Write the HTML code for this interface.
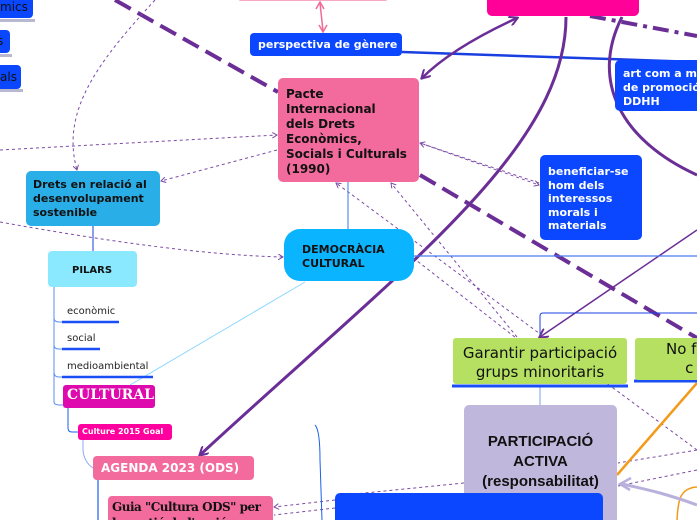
<!DOCTYPE html>
<html><head><meta charset="utf-8"><style>
html,body{margin:0;padding:0;background:#fff;width:697px;height:520px;overflow:hidden;position:relative;font-family:"DejaVu Sans","Liberation Sans",sans-serif}
.b{position:absolute;box-sizing:border-box}
.t{position:absolute;white-space:nowrap}
</style></head><body>
<svg width="697" height="520" style="position:absolute;left:0;top:0">
<defs>
<marker id="a" markerWidth="10" markerHeight="10" refX="8" refY="5" orient="auto" markerUnits="userSpaceOnUse"><path d="M0,0 L9,5 L0,10" fill="none" stroke="#6a2e96" stroke-width="2"/></marker>
<marker id="a2" markerWidth="10" markerHeight="10" refX="8" refY="5" orient="auto-start-reverse" markerUnits="userSpaceOnUse"><path d="M0,0 L9,5 L0,10" fill="none" stroke="#6a2e96" stroke-width="2"/></marker>
<marker id="s" markerWidth="6" markerHeight="6" refX="5" refY="3" orient="auto" markerUnits="userSpaceOnUse"><path d="M0,0 L5,3 L0,6" fill="none" stroke="#7b4aa6" stroke-width="1"/></marker>
</defs>
<rect x="0" y="19" width="35" height="3" fill="#b8b8d0"/>
<rect x="0" y="54" width="12" height="3" fill="#b8b8d0"/>
<rect x="0" y="89" width="23" height="3" fill="#b8b8d0"/>
<line x1="115" y1="0" x2="278" y2="92" stroke="#6a2e96" stroke-width="4" stroke-dasharray="18,8"/>
<line x1="420" y1="175" x2="697" y2="338" stroke="#6a2e96" stroke-width="4" stroke-dasharray="18,8"/>
<line x1="590" y1="16" x2="697" y2="36" stroke="#6a2e96" stroke-width="4" stroke-dasharray="16,6,4,6"/>
<path d="M402,52 L697,62" stroke="#1a3fe0" stroke-width="2.5" fill="none"/>
<line x1="320" y1="3" x2="323" y2="31" stroke="#f06a9a" stroke-width="1.5"/>
<path d="M316,9 L320,2 L324,9 M319,25 L323,32 L327,25" stroke="#f06a9a" stroke-width="1.5" fill="none"/>
<path d="M566,17 C566,150 400,270 200,455" stroke="#6a2e96" stroke-width="3" fill="none" marker-end="url(#a)"/>
<path d="M517,18 C480,35 445,55 422,78" stroke="#6a2e96" stroke-width="2.5" fill="none" marker-start="url(#a2)" marker-end="url(#a2)"/>
<path d="M622,17 C590,80 620,140 697,175" stroke="#6a2e96" stroke-width="3" fill="none"/>
<path d="M697,230 L540,337" stroke="#6a2e96" stroke-width="1.5" fill="none" marker-end="url(#a)"/>
<g stroke="#7b4aa6" stroke-width="1" stroke-dasharray="3,3" fill="none">
<path d="M155,0 C100,60 60,110 77,170" marker-end="url(#s)"/>
<path d="M0,150 L277,135" marker-end="url(#s)"/>
<path d="M277,150 L161,181" marker-end="url(#s)"/>
<path d="M0,222 C100,240 200,255 283,257" marker-end="url(#s)"/>
<path d="M539,183 L420,143" marker-end="url(#s)"/>
<path d="M420,143 L539,185" marker-end="url(#s)"/>
<path d="M517,337 L391,183" marker-end="url(#s)"/>
<path d="M697,450 L336,183" marker-end="url(#s)"/>
<path d="M380,232 L516,338"/>
<path d="M697,450 L618,463"/>
<path d="M697,470 L618,486"/>
<path d="M464,483 L345,495"/>
<path d="M335,500 L274,507" marker-end="url(#s)"/>
<path d="M335,508 L274,515"/>
</g>
<line x1="348" y1="182" x2="348" y2="229" stroke="#5b8ef5" stroke-width="1.2"/>
<line x1="414" y1="256" x2="697" y2="256" stroke="#4a7cf0" stroke-width="1.2"/>
<path d="M540,335 L540,316 Q540,313 543,313 L697,313" stroke="#1a3fe0" stroke-width="1" fill="none"/>
<line x1="93" y1="226" x2="93" y2="251" stroke="#3a60e0" stroke-width="1.2"/>
<path d="M54,287 L54,372 Q54,377 59,377 L62,377 M54,318 Q54,322 59,322 L62,322 M54,345 Q54,349 59,349 L62,349 M54,372 L54,402 Q54,405 60,405 L63,405" stroke="#5b8ef5" stroke-width="1" fill="none"/>
<line x1="130" y1="385" x2="305" y2="282" stroke="#8fd8ff" stroke-width="1"/>
<path d="M68,408 L68,428 Q68,432 72,432 L78,432" stroke="#1a5ff0" stroke-width="1" fill="none"/>
<path d="M83,440 L83,450 Q84,462 93,468" stroke="#8aa8f5" stroke-width="1" fill="none"/>
<path d="M98,480 L98,520" stroke="#1a5ff0" stroke-width="1.2"/>
<path d="M315,425 Q320,430 320,460 L322,520" stroke="#1a5ff0" stroke-width="1" fill="none"/>
<line x1="540" y1="386" x2="540" y2="405" stroke="#7aa0f5" stroke-width="1"/>
<line x1="697" y1="383" x2="617" y2="475" stroke="#f39a1a" stroke-width="2.5"/>
<path d="M697,487 C680,488 678,500 677,520" stroke="#f39a1a" stroke-width="1.5" fill="none"/>
<path d="M697,505 C670,495 650,490 622,484" stroke="#b9b1dc" stroke-width="3" fill="none"/>
<path d="M631,478 L620,484 L630,490" stroke="#b9b1dc" stroke-width="2.5" fill="none"/>
<line x1="62" y1="322" x2="119" y2="322" stroke="#1a4ff5" stroke-width="2.5"/>
<line x1="62" y1="349" x2="100" y2="349" stroke="#1a4ff5" stroke-width="2.5"/>
<line x1="62" y1="377" x2="153" y2="377" stroke="#1a4ff5" stroke-width="2.5"/>
<line x1="452" y1="386" x2="628" y2="386" stroke="#1a4ff5" stroke-width="3"/>
<line x1="634" y1="381" x2="697" y2="381" stroke="#1a4ff5" stroke-width="3"/>
</svg>

<div class="b" style="left:-6px;top:-6px;width:39px;height:24px;background:#0a47ff;border-radius:4px"></div>
<div class="t" style="left:0;top:0;font-size:12px;color:#111">mics</div>
<div class="b" style="left:-6px;top:30px;width:16px;height:23px;background:#0a47ff;border-radius:4px"></div>
<div class="t" style="left:-3px;top:34px;font-size:12px;color:#111">s</div>
<div class="b" style="left:-6px;top:65px;width:27px;height:24px;background:#0a47ff;border-radius:4px"></div>
<div class="t" style="left:0;top:70px;font-size:12px;color:#111">als</div>

<div class="b" style="left:238px;top:-8px;width:150px;height:9px;background:#f7a8c4;border-radius:3px"></div>
<div class="b" style="left:487px;top:-8px;width:152px;height:24px;background:#ff0099;border-radius:5px"></div>

<div class="b" style="left:250px;top:33px;width:152px;height:23px;background:#0a47ff;border-radius:4px"></div>
<div class="t" style="left:258px;top:38px;font-size:11px;font-weight:bold;color:#fff">perspectiva de gènere</div>

<div class="b" style="left:278px;top:78px;width:141px;height:104px;background:#f26b9c;border-radius:5px"></div>
<div class="t" style="left:286px;top:87px;font-size:12px;font-weight:bold;color:#111;line-height:15px">Pacte<br>Internacional<br>dels Drets<br>Econòmics,<br>Socials i Culturals<br>(1990)</div>

<div class="b" style="left:615px;top:60px;width:90px;height:51px;background:#0a47ff;border-radius:5px"></div>
<div class="t" style="left:623px;top:67px;font-size:11px;font-weight:bold;color:#fff;line-height:14px">art com a m<br>de promoció<br>DDHH</div>

<div class="b" style="left:540px;top:155px;width:102px;height:85px;background:#0a47ff;border-radius:5px"></div>
<div class="t" style="left:548px;top:165px;font-size:11px;font-weight:bold;color:#fff;line-height:13.5px">beneficiar-se<br>hom dels<br>interessos<br>morals i<br>materials</div>

<div class="b" style="left:26px;top:171px;width:134px;height:55px;background:#29aee8;border-radius:5px"></div>
<div class="t" style="left:33px;top:178px;font-size:11px;font-weight:bold;color:#111;line-height:14px">Drets en relació al<br>desenvolupament<br>sostenible</div>

<div class="b" style="left:284px;top:229px;width:130px;height:52px;background:#0ab4ff;border-radius:16px"></div>
<div class="t" style="left:302px;top:243px;font-size:11px;font-weight:bold;color:#111;line-height:14px">DEMOCRÀCIA<br>CULTURAL</div>

<div class="b" style="left:48px;top:251px;width:89px;height:36px;background:#8ae9ff;border-radius:4px"></div>
<div class="t" style="left:72px;top:265px;font-size:10px;font-weight:bold;color:#111">PILARS</div>

<div class="t" style="left:67px;top:306px;font-size:10px;color:#222">econòmic</div>
<div class="t" style="left:67px;top:333px;font-size:10px;color:#222">social</div>
<div class="t" style="left:67px;top:361px;font-size:10px;color:#222">medioambiental</div>

<div class="b" style="left:63px;top:385px;width:92px;height:23px;background:#de0aad;border-radius:3px"></div>
<div class="t" style="left:67px;top:387px;font-size:14px;font-weight:bold;color:#fff;font-family:'DejaVu Serif','Liberation Serif',serif">CULTURAL</div>

<div class="b" style="left:78px;top:424px;width:94px;height:16px;background:#ff009e;border-radius:3px"></div>
<div class="t" style="left:82px;top:427px;font-size:8px;font-weight:bold;color:#fff">Culture 2015 Goal</div>

<div class="b" style="left:93px;top:456px;width:161px;height:24px;background:#f26b9c;border-radius:4px"></div>
<div class="t" style="left:101px;top:461px;font-size:12px;font-weight:bold;color:#fff">AGENDA 2023 (ODS)</div>

<div class="b" style="left:108px;top:496px;width:165px;height:30px;background:#f26b9c;border-radius:4px"></div>
<div class="t" style="left:112px;top:499px;font-size:12px;font-weight:bold;color:#111;font-family:'DejaVu Serif','Liberation Serif',serif;line-height:16px;letter-spacing:-0.5px">Guia "Cultura ODS" per<br>la gestió de l'acció</div>

<div class="b" style="left:453px;top:338px;width:174px;height:46px;background:#b5e061;border-radius:3px"></div>
<div class="t" style="left:453px;top:344px;width:174px;text-align:center;font-size:15px;color:#111;line-height:19px">Garantir participació<br>grups minoritaris</div>

<div class="b" style="left:635px;top:338px;width:80px;height:42px;background:#b5e061;border-radius:3px"></div>
<div class="t" style="left:666px;top:340px;font-size:15px;color:#111;line-height:19px">No f<br>&nbsp;&nbsp;&nbsp;&nbsp;c</div>

<div class="b" style="left:464px;top:405px;width:153px;height:125px;background:#bfb8dc;border-radius:5px"></div>
<div class="t" style="left:464px;top:432px;width:153px;text-align:center;font-size:15px;font-weight:bold;color:#111;line-height:20px;font-family:'Liberation Sans',sans-serif">PARTICIPACIÓ<br>ACTIVA<br>(responsabilitat)</div>

<div class="b" style="left:335px;top:493px;width:268px;height:40px;background:#0a47ff;border-radius:5px"></div>
</body></html>
